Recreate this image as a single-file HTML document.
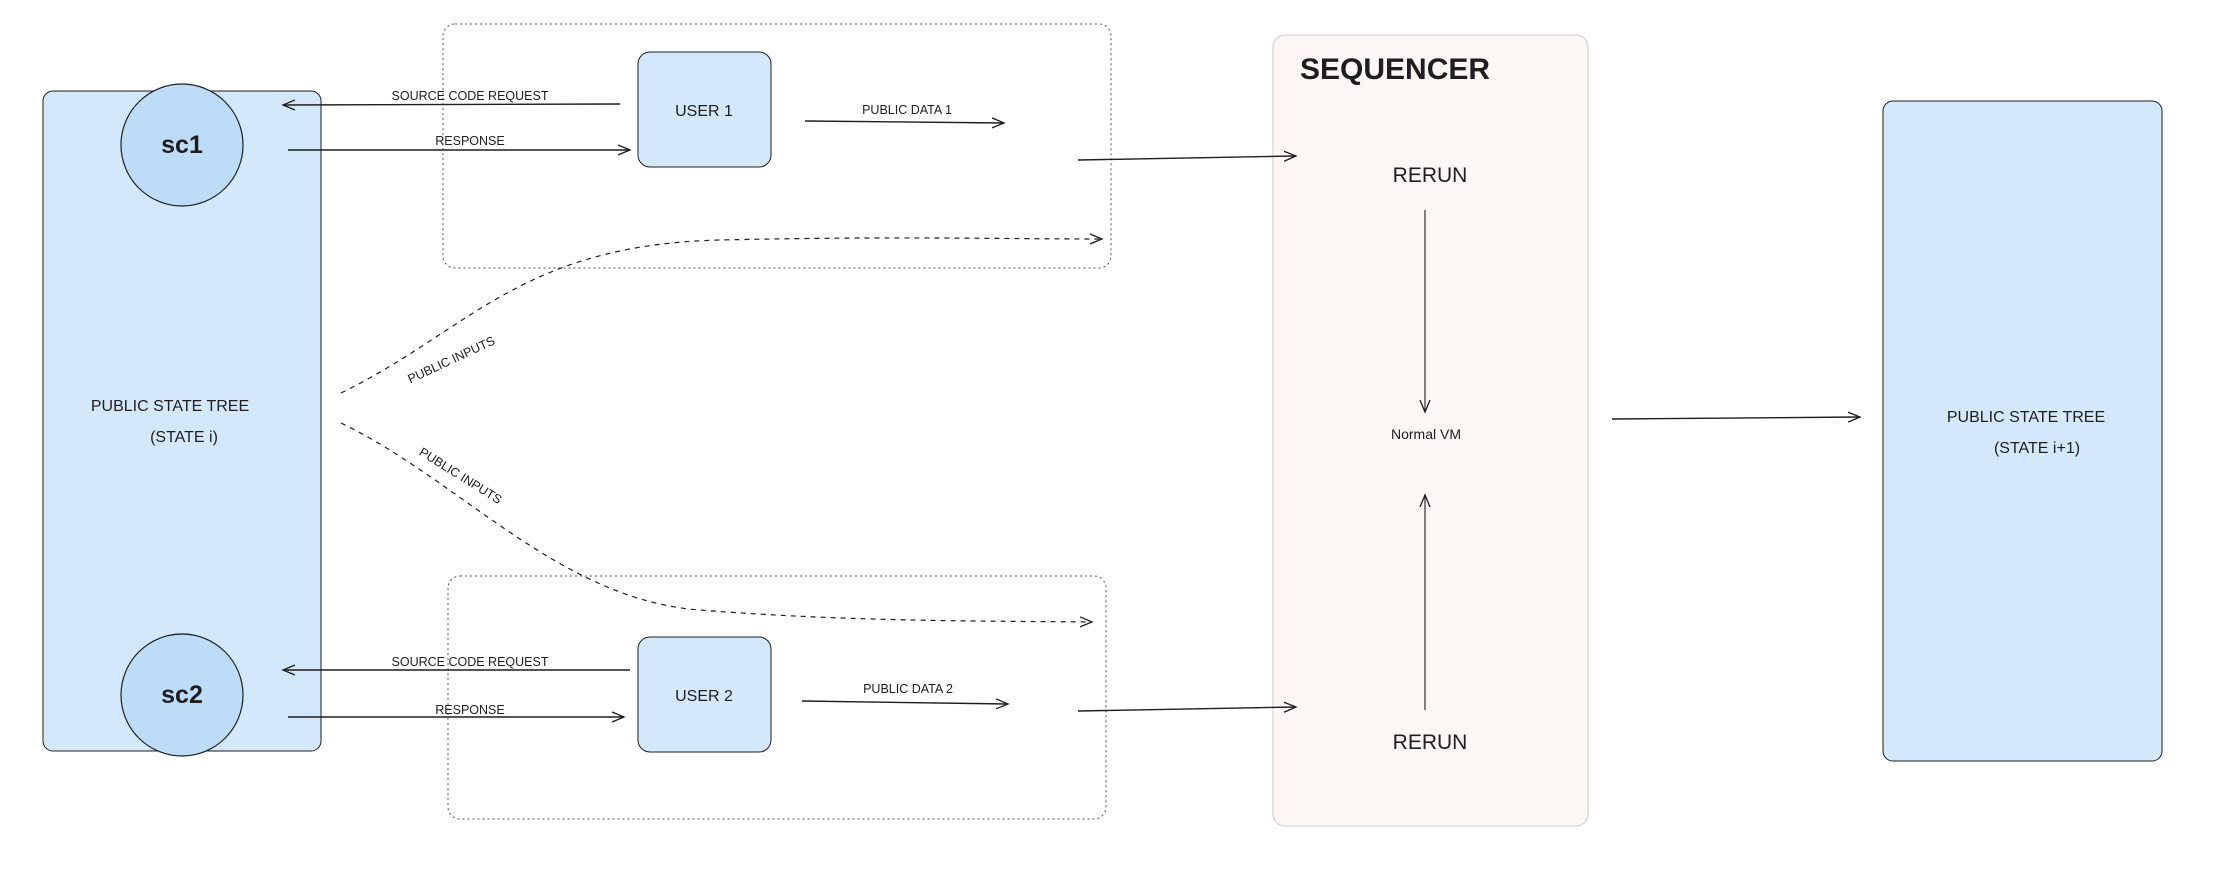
<!DOCTYPE html>
<html><head><meta charset="utf-8"><style>
html,body{margin:0;padding:0;background:#fff;}
svg{display:block;}
text{font-family:"Liberation Sans",sans-serif;fill:#1e1e1e;}
</style></head><body>
<svg width="2214" height="884" viewBox="0 0 2214 884" xmlns="http://www.w3.org/2000/svg">
<defs>
<marker id="a" markerWidth="14" markerHeight="12" refX="12" refY="6" orient="auto" markerUnits="userSpaceOnUse">
<path d="M0,1 L12,6 L0,11" fill="none" stroke="#1e1e1e" stroke-width="1.3"/>
</marker>
</defs>
<rect x="1273" y="35" width="315" height="791" rx="12" fill="#fcf6f5" stroke="#ccc" stroke-width="1"/>
<rect x="43" y="91" width="278" height="660" rx="10" fill="#d3e8fb" stroke="#1e1e1e" stroke-width="1"/>
<circle cx="182" cy="145" r="61" fill="#bcdcf8" stroke="#1e1e1e" stroke-width="1.2"/>
<circle cx="182" cy="695" r="61" fill="#bcdcf8" stroke="#1e1e1e" stroke-width="1.2"/>
<text x="182" y="153" font-size="25" text-anchor="middle" font-weight="bold">sc1</text>
<text x="182" y="703" font-size="25" text-anchor="middle" font-weight="bold">sc2</text>
<text x="170" y="411" font-size="16" text-anchor="middle">PUBLIC STATE TREE</text>
<text x="184" y="442" font-size="16" text-anchor="middle">(STATE i)</text>
<rect x="443" y="24" width="668" height="244" rx="12" fill="none" stroke="#555" stroke-width="1" stroke-dasharray="2,3"/>
<rect x="448" y="576" width="658" height="243" rx="12" fill="none" stroke="#555" stroke-width="1" stroke-dasharray="2,3"/>
<rect x="638" y="52" width="133" height="115" rx="12" fill="#d3e8fb" stroke="#1e1e1e" stroke-width="1"/>
<rect x="638" y="637" width="133" height="115" rx="12" fill="#d3e8fb" stroke="#1e1e1e" stroke-width="1"/>
<text x="704" y="116" font-size="16" text-anchor="middle">USER 1</text>
<text x="704" y="701" font-size="16" text-anchor="middle">USER 2</text>
<g stroke="#1e1e1e" stroke-width="1.4" fill="none">
<line x1="620" y1="104" x2="283" y2="105" marker-end="url(#a)"/>
<line x1="288" y1="150" x2="630" y2="150" marker-end="url(#a)"/>
<line x1="805" y1="121" x2="1004" y2="123" marker-end="url(#a)"/>
<line x1="1078" y1="160" x2="1296" y2="156" marker-end="url(#a)"/>
<line x1="630" y1="670" x2="283" y2="670" marker-end="url(#a)"/>
<line x1="288" y1="717" x2="624" y2="717" marker-end="url(#a)"/>
<line x1="802" y1="701" x2="1008" y2="704" marker-end="url(#a)"/>
<line x1="1078" y1="711" x2="1296" y2="707" marker-end="url(#a)"/>
<line x1="1425" y1="210" x2="1425" y2="412" marker-end="url(#a)" stroke-width="1.1"/>
<line x1="1425" y1="710" x2="1425" y2="495" marker-end="url(#a)" stroke-width="1.1"/>
<line x1="1612" y1="419" x2="1860" y2="417" marker-end="url(#a)"/>
<path d="M341,393 C470,330 520,245 720,240 C900,236 1000,239 1102,239" stroke-dasharray="5,5" marker-end="url(#a)" stroke-width="1.2"/>
<path d="M341,423 C460,480 560,600 700,610 C850,622 1000,621 1092,622" stroke-dasharray="5,5" marker-end="url(#a)" stroke-width="1.2"/>
</g>
<g font-size="12.5">
<text x="470" y="100" text-anchor="middle">SOURCE CODE REQUEST</text>
<text x="470" y="145" text-anchor="middle">RESPONSE</text>
<text x="907" y="114" text-anchor="middle">PUBLIC DATA 1</text>
<text x="470" y="666" text-anchor="middle">SOURCE CODE REQUEST</text>
<text x="470" y="714" text-anchor="middle">RESPONSE</text>
<text x="908" y="693" text-anchor="middle">PUBLIC DATA 2</text>
<text x="451" y="364" text-anchor="middle" transform="rotate(-25 451 359)">PUBLIC INPUTS</text>
<text x="461" y="480" text-anchor="middle" transform="rotate(32 461 475)">PUBLIC INPUTS</text>
</g>
<text x="1300" y="79" font-size="30" font-weight="bold">SEQUENCER</text>
<text x="1430" y="182" font-size="21" text-anchor="middle">RERUN</text>
<text x="1426" y="439" font-size="14" text-anchor="middle">Normal VM</text>
<text x="1430" y="749" font-size="21" text-anchor="middle">RERUN</text>
<rect x="1883" y="101" width="279" height="660" rx="10" fill="#d3e8fb" stroke="#1e1e1e" stroke-width="1"/>
<text x="2026" y="422" font-size="16" text-anchor="middle">PUBLIC STATE TREE</text>
<text x="2037" y="453" font-size="16" text-anchor="middle">(STATE i+1)</text>
</svg>
</body></html>
